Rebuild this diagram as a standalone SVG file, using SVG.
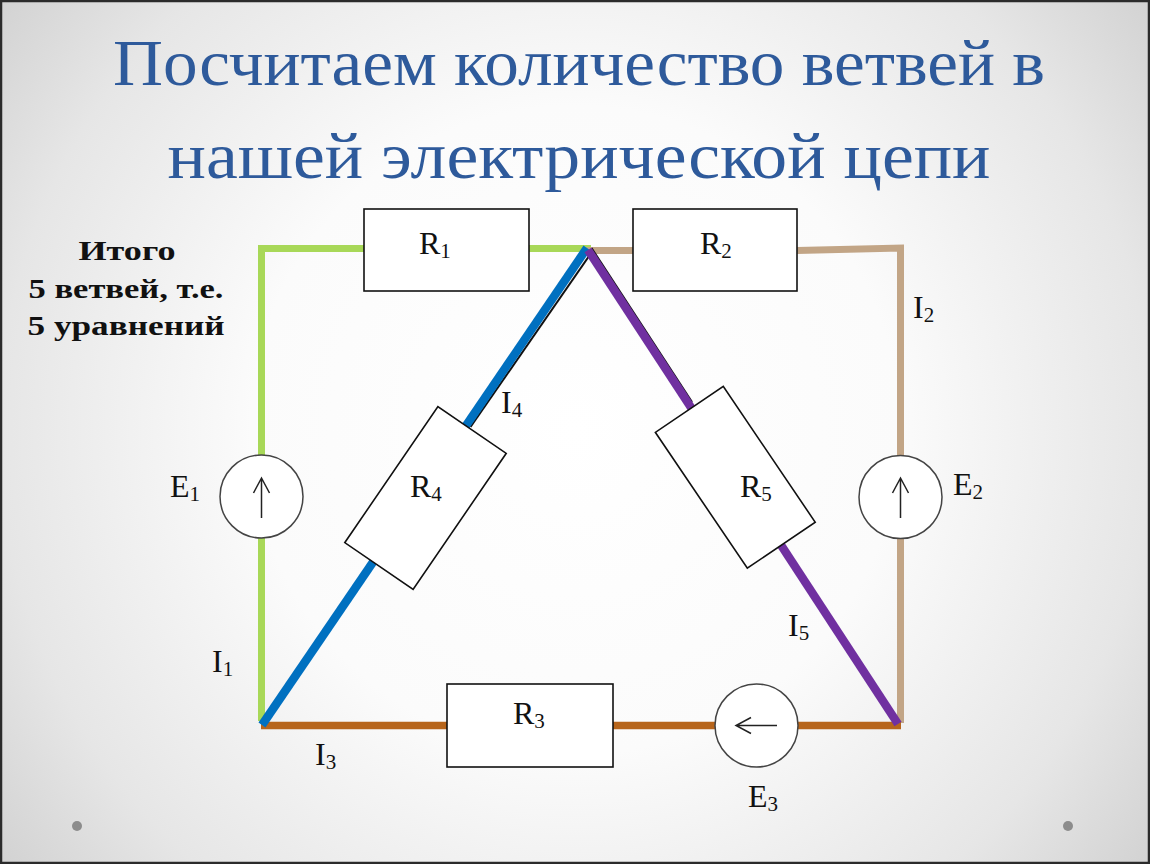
<svg xmlns="http://www.w3.org/2000/svg" width="1150" height="864" viewBox="0 0 1150 864">
<defs>
<radialGradient id="bg" cx="575" cy="430" r="720" gradientUnits="userSpaceOnUse">
<stop offset="0" stop-color="#ffffff"/>
<stop offset="0.45" stop-color="#fbfbfb"/>
<stop offset="0.8" stop-color="#e6e6e6"/>
<stop offset="1" stop-color="#d2d2d2"/>
</radialGradient>
<style>
.title{font-family:"Liberation Serif","DejaVu Serif",serif;font-size:66px;fill:#2E5A9B;}
.note{font-family:"Liberation Serif","DejaVu Serif",serif;font-weight:bold;font-size:28px;fill:#111;}
.lbl{font-family:"Liberation Serif","Times New Roman",serif;font-size:32px;fill:#111;}
.sub{font-size:21px;}
.res{fill:#fff;stroke:#111;stroke-width:1.6;}
.src{fill:#fff;stroke:#444;stroke-width:1.5;}
.arr{fill:none;stroke:#222;stroke-width:1.5;}
.w{fill:none;stroke-linecap:butt;}
.green{stroke:#A8D858;stroke-width:7;}
.tan{stroke:#C2A586;stroke-width:7;}
.brown{stroke:#B7651B;stroke-width:7.5;}
.blue{stroke:#0070C0;stroke-width:8.5;}
.purple{stroke:#7030A0;stroke-width:8.5;}
.blk{stroke:#111;stroke-width:2;}
</style>
</defs>
<rect x="0" y="0" width="1150" height="864" fill="url(#bg)"/>
<rect x="1" y="1" width="1148" height="862" fill="none" stroke="#2b2b2b" stroke-width="2.5"/>
<circle cx="77" cy="826" r="5" fill="#8c8c8c"/>
<circle cx="1068" cy="826" r="5" fill="#8c8c8c"/>

<g id="title">
<text class="title" x="579" y="85" text-anchor="middle" textLength="932" lengthAdjust="spacingAndGlyphs">Посчитаем количество ветвей в</text>
<text class="title" x="579" y="178" text-anchor="middle" textLength="823" lengthAdjust="spacingAndGlyphs">нашей электрической цепи</text>
</g>

<g id="note">
<text class="note" x="127" y="260" text-anchor="middle" textLength="97" lengthAdjust="spacingAndGlyphs">Итого</text>
<text class="note" x="126" y="298" text-anchor="middle" textLength="195" lengthAdjust="spacingAndGlyphs">5 ветвей, т.е.</text>
<text class="note" x="126" y="335" text-anchor="middle" textLength="197" lengthAdjust="spacingAndGlyphs">5 уравнений</text>
</g>

<g id="connectors">
<polyline class="w green" points="364,248.5 261.5,248.5 261.5,455"/>
<line class="w green" x1="261.5" y1="538" x2="261.5" y2="721"/>
<line class="w green" x1="528" y1="248.5" x2="591" y2="248.5"/>
<line class="w tan" x1="587" y1="250.5" x2="633" y2="250.5"/>
<polyline class="w tan" points="797,250.5 900.5,248 900.5,455"/>
<line class="w tan" x1="900.5" y1="538" x2="900.5" y2="723"/>
<line class="w brown" x1="261" y1="725.5" x2="447" y2="725.5"/>
<line class="w brown" x1="613" y1="725.5" x2="716" y2="725.5"/>
<line class="w brown" x1="797" y1="725.5" x2="901" y2="725.5"/>
<line class="w blk" x1="591.5" y1="252.5" x2="470.5" y2="427"/>
<line class="w blue" x1="587" y1="248" x2="262" y2="725"/>
<line class="w blk" x1="591.5" y1="248" x2="692" y2="402"/>
<line class="w purple" x1="588" y1="250" x2="898" y2="724"/>
</g>

<g id="R1">
<rect class="res" x="364" y="209" width="165" height="82"/>
<text class="lbl" x="419" y="254">R<tspan class="sub" dy="4">1</tspan></text>
</g>
<g id="R2">
<rect class="res" x="633" y="209" width="164" height="82"/>
<text class="lbl" x="700" y="254">R<tspan class="sub" dy="4">2</tspan></text>
</g>
<g id="R3">
<rect class="res" x="447" y="684" width="166" height="83"/>
<text class="lbl" x="513" y="724">R<tspan class="sub" dy="4">3</tspan></text>
</g>
<g id="R4">
<rect class="res" x="-82.4" y="-41.4" width="164.8" height="82.8" transform="translate(425.5 498) rotate(-55.6)"/>
<text class="lbl" x="410" y="497">R<tspan class="sub" dy="4">4</tspan></text>
</g>
<g id="R5">
<rect class="res" x="-82" y="-41" width="164" height="82" transform="translate(735.3 477.3) rotate(55.9)"/>
<text class="lbl" x="740" y="497">R<tspan class="sub" dy="4">5</tspan></text>
</g>

<g id="E1">
<circle class="src" cx="261.5" cy="496.5" r="41.5"/>
<path class="arr" d="M261.5,518 V478 M253.5,493 L261.5,478 L269.5,493"/>
<text class="lbl" x="170" y="497">E<tspan class="sub" dy="4">1</tspan></text>
</g>
<g id="E2">
<circle class="src" cx="900.5" cy="497" r="41.5"/>
<path class="arr" d="M900.5,518 V478 M892.5,493 L900.5,478 L908.5,493"/>
<text class="lbl" x="953" y="495">E<tspan class="sub" dy="4">2</tspan></text>
</g>
<g id="E3">
<circle class="src" cx="756.5" cy="725.5" r="41.5"/>
<path class="arr" d="M777,725.5 H736 M751,717.5 L736,725.5 L751,733.5"/>
<text class="lbl" x="748" y="807">E<tspan class="sub" dy="4">3</tspan></text>
</g>

<g id="currents">
<text class="lbl" x="212" y="672">I<tspan class="sub" dy="4">1</tspan></text>
<text class="lbl" x="913" y="318">I<tspan class="sub" dy="4">2</tspan></text>
<text class="lbl" x="315" y="765">I<tspan class="sub" dy="4">3</tspan></text>
<text class="lbl" x="501" y="413">I<tspan class="sub" dy="4">4</tspan></text>
<text class="lbl" x="788" y="636">I<tspan class="sub" dy="4">5</tspan></text>
</g>
</svg>
